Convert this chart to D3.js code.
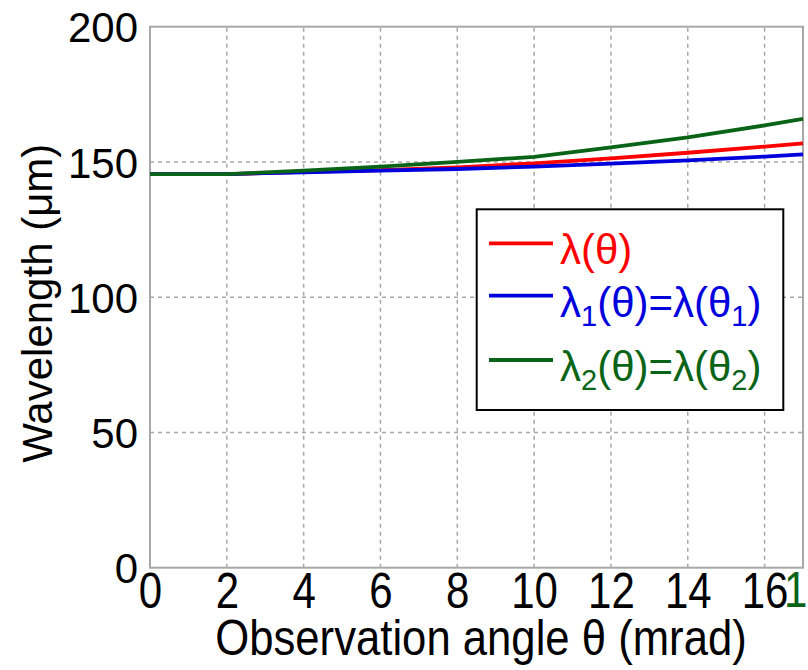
<!DOCTYPE html>
<html>
    <head>
        <script src="https://d3js.org/d3.v7.min.js"></script>
        <style>
        html, body {
            margin: 0;
            padding: 0;
            background: #fff;
        }
        svg text {
            font-family: "Liberation Sans", Arial, sans-serif;
        }
        </style>
    </head>
<body>
<svg id="chart"></svg>
<script>

    var width = 808,
        height = 670;

    // observation angle (mrad)
    var theta = [0, 2, 4, 6, 8, 10, 12, 14, 16, 17];

    // wavelengths (um)
    var lambda  = [145.5, 145.5, 146.3, 147.0, 148.0, 149.5, 151.3, 153.4, 155.7, 156.9];
    var lambda1 = [145.5, 145.5, 146.2, 146.8, 147.4, 148.3, 149.4, 150.6, 152.0, 152.8];
    var lambda2 = [145.5, 145.5, 146.8, 148.3, 150.0, 151.9, 155.4, 159.1, 163.5, 165.9];

    var xTicks = [0, 2, 4, 6, 8, 10, 12, 14, 16];
    var yTicks = [0, 50, 100, 150, 200];

    var series = [
        {name: 'lambda',  values: lambda,  color: '#ff0000', label: [['λ(θ)', false]]},
        {name: 'lambda1', values: lambda1, color: '#0000dd', label: [['λ', false], ['1', true], ['(θ)=λ(θ', false], ['1', true], [')', false]]},
        {name: 'lambda2', values: lambda2, color: '#0a6418', label: [['λ', false], ['2', true], ['(θ)=λ(θ', false], ['2', true], [')', false]]}
    ];

    var svg = d3.select('#chart')
        .attr('width', width)
        .attr('height', height);

    var x = d3.scaleLinear().domain([0, 17]).range([150, 803]);
    var y = d3.scaleLinear().domain([0, 200]).range([567.7, 26.7]);

    // Grid
    svg.append('g')
        .selectAll('line')
        .data(xTicks.slice(1))
        .enter().append('line')
        .attr('x1', function(d) { return x(d); })
        .attr('x2', function(d) { return x(d); })
        .attr('y1', y(0))
        .attr('y2', y(200))
        .attr('stroke', '#a8a8a8')
        .attr('stroke-width', 1.5)
        .attr('stroke-dasharray', '4,4');

    svg.append('g')
        .selectAll('line')
        .data(yTicks.slice(1, -1))
        .enter().append('line')
        .attr('x1', x(0))
        .attr('x2', x(17))
        .attr('y1', function(d) { return y(d); })
        .attr('y2', function(d) { return y(d); })
        .attr('stroke', '#a8a8a8')
        .attr('stroke-width', 1.5)
        .attr('stroke-dasharray', '4,4');

    // Plot frame
    svg.append('rect')
        .attr('x', x(0))
        .attr('y', y(200))
        .attr('width', x(17) - x(0))
        .attr('height', y(0) - y(200))
        .attr('fill', 'none')
        .attr('stroke', '#a8a8a8')
        .attr('stroke-width', 2);

    // Curves
    var line = d3.line()
        .x(function(d, i) { return x(theta[i]); })
        .y(function(d) { return y(d); });

    series.forEach(function(s) {
        svg.append('path')
            .datum(s.values)
            .attr('d', line)
            .attr('fill', 'none')
            .attr('stroke', s.color)
            .attr('stroke-width', 3.8);
    });

    // Axes labels
    var yAxis = d3.axisLeft(y).tickValues(yTicks).tickSize(0).tickPadding(12);
    var gy = svg.append('g')
        .attr('transform', 'translate(' + x(0) + ',0)')
        .call(yAxis);
    gy.select('.domain').remove();
    gy.selectAll('text')
        .attr('font-size', 42)
        .attr('fill', '#000')
        .attr('dy', '0.36em');

    // x labels are drawn taller than wide in the original
    var xAxis = d3.axisBottom(x).tickValues(xTicks).tickSize(0).tickPadding(3);
    var gx = svg.append('g')
        .attr('transform', 'translate(0,' + y(0) + ')')
        .call(xAxis);
    gx.select('.domain').remove();
    gx.selectAll('text')
        .attr('font-size', 42)
        .attr('fill', '#000')
        .attr('dy', '0.72em')
        .attr('transform', 'scale(1,1.2)');

    svg.append('text')
        .attr('transform', 'translate(784,607) scale(1,1.2)')
        .attr('font-size', 42)
        .attr('fill', '#0a6418')
        .text('1');

    svg.append('text')
        .attr('transform', 'translate(481,655) scale(1.04,1.2)')
        .attr('text-anchor', 'middle')
        .attr('font-size', 42)
        .attr('fill', '#000')
        .text('Observation angle  θ (mrad)');

    svg.append('text')
        .attr('transform', 'translate(52,' + (y(100) + 6) + ') rotate(-90)')
        .attr('text-anchor', 'middle')
        .attr('font-size', 42)
        .attr('fill', '#000')
        .text('Wavelength (μm)');

    // Legend
    var legend = svg.append('g');
    legend.append('rect')
        .attr('x', 476.7)
        .attr('y', 209.3)
        .attr('width', 306.6)
        .attr('height', 200.7)
        .attr('fill', '#fff')
        .attr('stroke', '#000')
        .attr('stroke-width', 2);

    var rowY = [243.3, 295.7, 360];
    series.forEach(function(s, i) {
        legend.append('line')
            .attr('x1', 489)
            .attr('x2', 553)
            .attr('y1', rowY[i])
            .attr('y2', rowY[i])
            .attr('stroke', s.color)
            .attr('stroke-width', 3.8);

        var t = legend.append('text')
            .attr('x', 560)
            .attr('y', rowY[i] + 21)
            .attr('font-size', 42)
            .attr('fill', s.color);
        s.label.forEach(function(part) {
            var sp = t.append('tspan').text(part[0]);
            if (part[1]) {
                sp.attr('font-size', 29).attr('dy', 9);
            } else if (t.selectAll('tspan').size() > 1) {
                sp.attr('dy', -9);
            }
        });
    });

</script>
</body>
</html>
